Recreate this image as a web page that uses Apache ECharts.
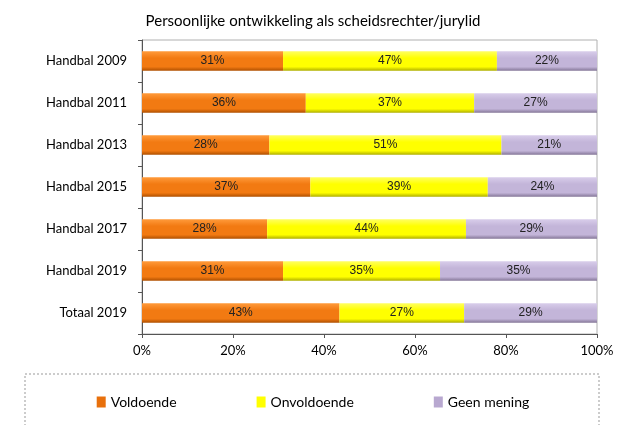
<!DOCTYPE html>
<html><head><meta charset="utf-8">
<script src="https://cdn.jsdelivr.net/npm/echarts@6/dist/echarts.min.js"></script>
<style>html,body{margin:0;padding:0;background:#fff}#c{width:626px;height:425px}</style>
</head><body><div id="c"></div>
<script>
const categories = ['Handbal 2009','Handbal 2011','Handbal 2013','Handbal 2015','Handbal 2017','Handbal 2019','Totaal 2019'];
// shares in percent (labels show the rounded values)
const voldoende = [31,36,28,37,27.5,31,43.4];
const onvoldoende = [47,37,51,39,43.7,34.5,27.4];
const geenMening = [22,27,21,24,28.8,34.5,29.2];
const seriesNames = ['Voldoende','Onvoldoende','Geen mening'];

function grad(top, mid, bot){
  return new echarts.graphic.LinearGradient(0,0,0,1,[
    {offset:0,color:top},{offset:0.35,color:mid},{offset:0.8,color:mid},{offset:1,color:bot}]);
}
const colors = [
  grad('#ff9a3a','#f27a12','#b05000'),
  grad('#ffff60','#ffff00','#b0b000'),
  grad('#d8cdea','#c3b5d9','#857798')
];
const legendColors = ['#e8700c','#ffff00','#b8a8d0'];
const labelFont = {fontFamily:'Liberation Sans Narrow, Arial Narrow, Liberation Sans', fontSize:12, color:'#222'};
const data = [voldoende, onvoldoende, geenMening];
const txtFont = 'Lato, Open Sans, sans-serif';

const chart = echarts.init(document.getElementById('c'), null, {renderer:'canvas'});
chart.setOption({
  animation:false,
  title:{text:'Persoonlijke ontwikkeling als scheidsrechter/jurylid', left:'center', top:9,
    textStyle:{fontFamily:txtFont, fontWeight:'normal', fontSize:15, color:'#000'}},
  grid:{left:142, right:29, top:40, bottom:91, show:true, borderColor:'#b0b0b0', borderWidth:1, backgroundColor:'#fff'},
  legend:{bottom:11, left:'center', itemGap:80, itemWidth:9, itemHeight:11, icon:'rect',
    textStyle:{fontFamily:txtFont, fontSize:14, color:'#000'},
    data: seriesNames.map((n,i)=>({name:n, itemStyle:{color:legendColors[i]}}))},
  xAxis:{type:'value', min:0, max:100, interval:20,
    axisLine:{show:true, lineStyle:{color:'#555'}}, axisTick:{show:true, length:4, lineStyle:{color:'#555'}},
    splitLine:{show:false},
    axisLabel:{formatter:v=>v+'%', color:'#000', fontFamily:txtFont, fontSize:13, margin:10}},
  yAxis:{type:'category', data:categories, inverse:true,
    axisLine:{show:true, lineStyle:{color:'#555'}}, axisTick:{show:true, length:4, lineStyle:{color:'#555'}},
    axisLabel:{color:'#000', fontFamily:txtFont, fontSize:13, margin:15}},
  graphic:[{type:'rect', shape:{x:25, y:374, width:574, height:80},
    style:{fill:'none', stroke:'#999', lineWidth:1, lineDash:[2,2]}, z:-1}],
  series: seriesNames.map((n,i)=>({
    name:n, type:'bar', stack:'s', barWidth:'46%', data:data[i],
    itemStyle:{color:colors[i]},
    label:{show:true, position:'inside', formatter:p=>Math.round(p.value)+'%', ...labelFont}
  }))
});
</script></body></html>
